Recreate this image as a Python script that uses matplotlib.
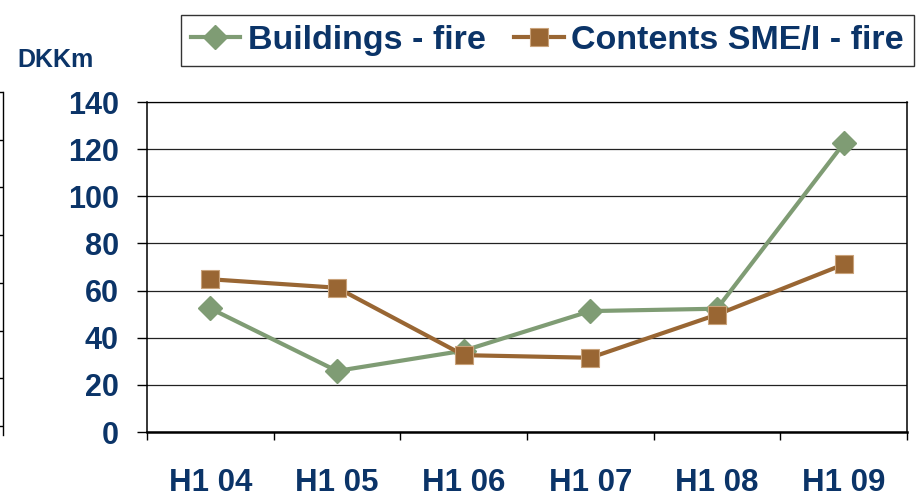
import numpy as np
import matplotlib.pyplot as plt

# data
periods = ["H1 04", "H1 05", "H1 06", "H1 07", "H1 08", "H1 09"]
buildings_fire = [52.4, 25.9, 34.5, 51.3, 52.3, 122.4]
contents_fire = [64.8, 61.2, 32.6, 31.5, 49.8, 71.1]
y_ticks = [0, 20, 40, 60, 80, 100, 120, 140]

navy = "#0B3468"
green = "#7F9C74"
brown = "#996633"

plt.rcParams["font.family"] = ["Liberation Sans", "DejaVu Sans"]
plt.rcParams["font.weight"] = "bold"

fig = plt.figure(figsize=(9.18, 4.99), dpi=100)

# fragment of a neighbouring chart cut off at the left edge
frag = fig.add_axes([3 / 918, (499 - 435) / 499, 0.0005, (435 - 92) / 499])
frag.set_ylim(-0.19, 7)
frag.set_yticks(range(8))
frag.set_yticklabels([])
frag.set_xticks([])
for s in ["top", "right", "bottom"]:
    frag.spines[s].set_visible(False)
frag.spines["left"].set_linewidth(1.0)
frag.tick_params(axis="y", direction="out", length=3, width=1.0)
frag.patch.set_alpha(0)

ax = fig.add_axes([147 / 918, (499 - 432) / 499, (907 - 147) / 918, (432 - 102) / 499])

x = np.arange(len(periods))
ax.plot(x, buildings_fire, color=green, lw=3, marker="D", ms=12,
        mec=green, label="Buildings - fire", zorder=3)
ax.plot(x, contents_fire, color=brown, lw=3, marker="s", ms=12.5,
        mec="#c9a27a", mew=0.8, label="Contents SME/I - fire", zorder=4)

ax.set_xlim(-0.5, len(periods) - 0.5)
ax.set_ylim(0, 140)
ax.set_yticks(y_ticks)
ax.set_yticklabels([str(v) for v in y_ticks], fontsize=22, fontweight="bold", color=navy)
ax.yaxis.grid(True, color="#222222", lw=0.9)
ax.set_axisbelow(True)

ax.set_xticks(x)
ax.set_xticklabels(periods, fontsize=22.5, fontweight="bold", color=navy)
ax.set_xticks(np.arange(-0.5, len(periods)), minor=True)
ax.tick_params(axis="x", which="major", length=0, pad=26)
ax.tick_params(axis="x", which="minor", length=6, width=1.0, direction="out")
ax.tick_params(axis="y", length=7.2, width=1.0, direction="out", pad=13)

ax.spines["bottom"].set_linewidth(1.8)
ax.spines["left"].set_linewidth(1.1)
ax.spines["right"].set_linewidth(1.1)
ax.spines["top"].set_linewidth(0.9)

fig.text(17 / 918, 1 - 60 / 499, "DKKm", fontsize=18, fontweight="bold",
         color=navy, ha="left", va="center")

leg = fig.legend(loc="upper right", bbox_to_anchor=(914 / 918, 1 - 15 / 499),
                 ncol=2, fontsize=24.5, frameon=True, fancybox=False,
                 edgecolor="black", borderaxespad=0, handlelength=1.45,
                 handletextpad=0.22, columnspacing=0.85, borderpad=0.3)
leg.get_frame().set_linewidth(1.0)
for t in leg.get_texts():
    t.set_color(navy)
    t.set_fontweight("bold")

plt.savefig("out.png", dpi=100)
